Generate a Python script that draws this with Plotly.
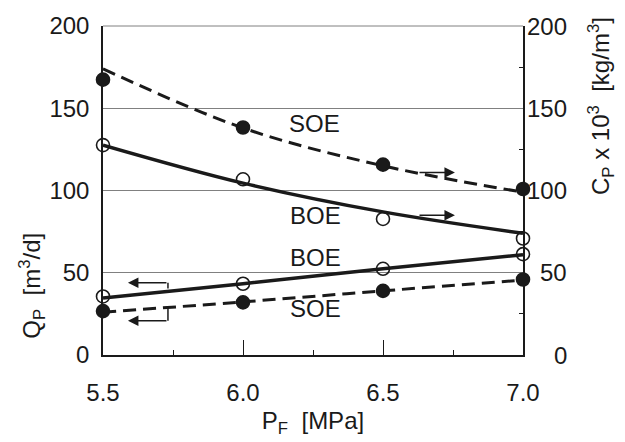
import plotly.graph_objects as go

# Feed pressure [MPa]
pf = [5.5, 6.0, 6.5, 7.0]

# Permeate flux Q_P [m3/d] (left axis)
qp_boe = [35.6, 43.3, 52.4, 61.3]
qp_soe = [26.7, 32.0, 39.0, 45.9]

# Permeate concentration C_P x 10^3 [kg/m3] (right axis)
cp_boe = [127.6, 106.8, 82.7, 70.8]
cp_soe = [167.4, 138.3, 115.7, 100.9]

# Trend lines evaluated at the same feed pressures
qp_boe_fit = [34.6, 43.3, 52.5, 61.0]
qp_soe_fit = [26.0, 32.3, 39.0, 45.6]
cp_boe_fit = [127.6, 104.5, 87.0, 74.0]
cp_soe_fit = [174.0, 138.0, 115.0, 99.0]

y_ticks = [0, 50, 100, 150, 200]

FONT = "Liberation Sans, Arial, sans-serif"
INK = "#1a1a1a"
FS = 24

fig = go.Figure()


def trend(y, axis, dash):
    fig.add_trace(go.Scatter(
        x=pf, y=y, yaxis=axis, mode="lines", line_shape="spline",
        line=dict(color=INK, width=3.5 if dash == "solid" else 3, dash=dash),
        showlegend=False, hoverinfo="skip", cliponaxis=False))


def points(y, axis, filled):
    fig.add_trace(go.Scatter(
        x=pf, y=y, yaxis=axis, mode="markers",
        marker=dict(size=13, symbol="circle" if filled else "circle-open",
                    color=INK, line=dict(color=INK, width=1.6)),
        showlegend=False, cliponaxis=False))


dashed = "13px,7px"
trend(cp_soe_fit, "y2", dashed)
trend(cp_boe_fit, "y2", "solid")
trend(qp_boe_fit, "y", "solid")
trend(qp_soe_fit, "y", dashed)
points(cp_soe, "y2", True)
points(cp_boe, "y2", False)
points(qp_boe, "y", False)
points(qp_soe, "y", True)

ann = []
# Series labels
for txt, x, y, yref in [("SOE", 6.254, 140.7, "y2"), ("BOE", 6.26, 84.6, "y2"),
                        ("BOE", 6.26, 59.3, "y"), ("SOE", 6.26, 28.2, "y")]:
    ann.append(dict(text=txt, x=x, y=y, xref="x", yref=yref, showarrow=False,
                    xanchor="center", yanchor="middle",
                    font=dict(size=FS, color=INK, family=FONT)))

# Axis-indicating arrows
for x0, x1, y, yref in [(6.625, 6.757, 111.0, "y2"), (6.625, 6.757, 84.9, "y2"),
                        (5.732, 5.589, 43.9, "y"), (5.732, 5.589, 20.8, "y")]:
    ann.append(dict(x=x1, y=y, ax=x0, ay=y, xref="x", yref=yref, axref="x", ayref=yref,
                    text="", showarrow=True, arrowhead=2, arrowsize=1.4,
                    arrowwidth=1.5, arrowcolor=INK, standoff=0))

# Right-axis tick labels (right-aligned)
for v in y_ticks:
    ann.append(dict(text=str(v), x=1, y=v, xref="paper", yref="y2", xanchor="right",
                    yanchor="middle", xshift=46, showarrow=False,
                    font=dict(size=FS, color=INK, family=FONT)))

# Axis titles, placed in pixels then converted to paper coordinates
W, H = 625, 442
L, R, T, B = 103, 102, 23, 82
pw, ph = W - L - R, H - T - B
for txt, px, py in [("Q<sub>P</sub>  [m<sup>3</sup>/d]", 32, 289),
                    ("C<sub>P</sub> x 10<sup>3</sup>  [kg/m<sup>3</sup>]", 601, 105)]:
    ann.append(dict(text=txt, x=(px - L) / pw, y=(H - B - py) / ph, xref="paper", yref="paper",
                    xanchor="center", yanchor="middle", showarrow=False, textangle=-90,
                    font=dict(size=FS, color=INK, family=FONT)))

shapes = [
    # bracket stems on the left-pointing arrows
    dict(type="line", xref="x", yref="y", x0=5.732, x1=5.732, y0=43.9, y1=40.4,
         line=dict(color=INK, width=1.5)),
    dict(type="line", xref="x", yref="y", x0=5.732, x1=5.732, y0=20.8, y1=29.1,
         line=dict(color=INK, width=1.5)),
    # top frame line drawn in grid colour
    dict(type="line", xref="paper", yref="paper", x0=0, x1=1, y0=1, y1=1,
         line=dict(color="#808080", width=1)),
]

fig.update_layout(
    width=W, height=H,
    margin=dict(l=L, r=R, t=T, b=B, pad=0),
    plot_bgcolor="white", paper_bgcolor="white",
    font=dict(family=FONT, size=FS, color=INK),
    annotations=ann, shapes=shapes,
    xaxis=dict(
        range=[5.5, 7.0], tickvals=pf, tickformat=".1f",
        ticks="inside", ticklen=15, tickwidth=1.3, tickcolor=INK,
        minor=dict(ticks="inside", ticklen=5, tickwidth=1.3, tickcolor=INK, dtick=0.25, tick0=5.5),
        showline=True, linecolor=INK, linewidth=1.5, showgrid=False, zeroline=False,
        ticklabelstandoff=15,
        title=dict(text="P<sub>F</sub>  [MPa]", standoff=8, font=dict(size=FS)),
    ),
    yaxis=dict(
        range=[0, 200], tickvals=y_ticks, ticks="", showline=True, linecolor=INK,
        linewidth=1.5, showgrid=True, gridcolor="#808080", gridwidth=1, zeroline=False,
        ticklabelstandoff=7,
    ),
    yaxis2=dict(
        range=[0, 200], overlaying="y", side="right", tickvals=y_ticks, ticks="",
        showticklabels=False, showline=True, linecolor=INK, linewidth=1.5,
        showgrid=False, zeroline=False,
        minor=dict(ticks="inside", ticklen=4, tickwidth=1.2, tickcolor=INK, tick0=25, dtick=50),
    ),
)

fig.write_html("out.html")
